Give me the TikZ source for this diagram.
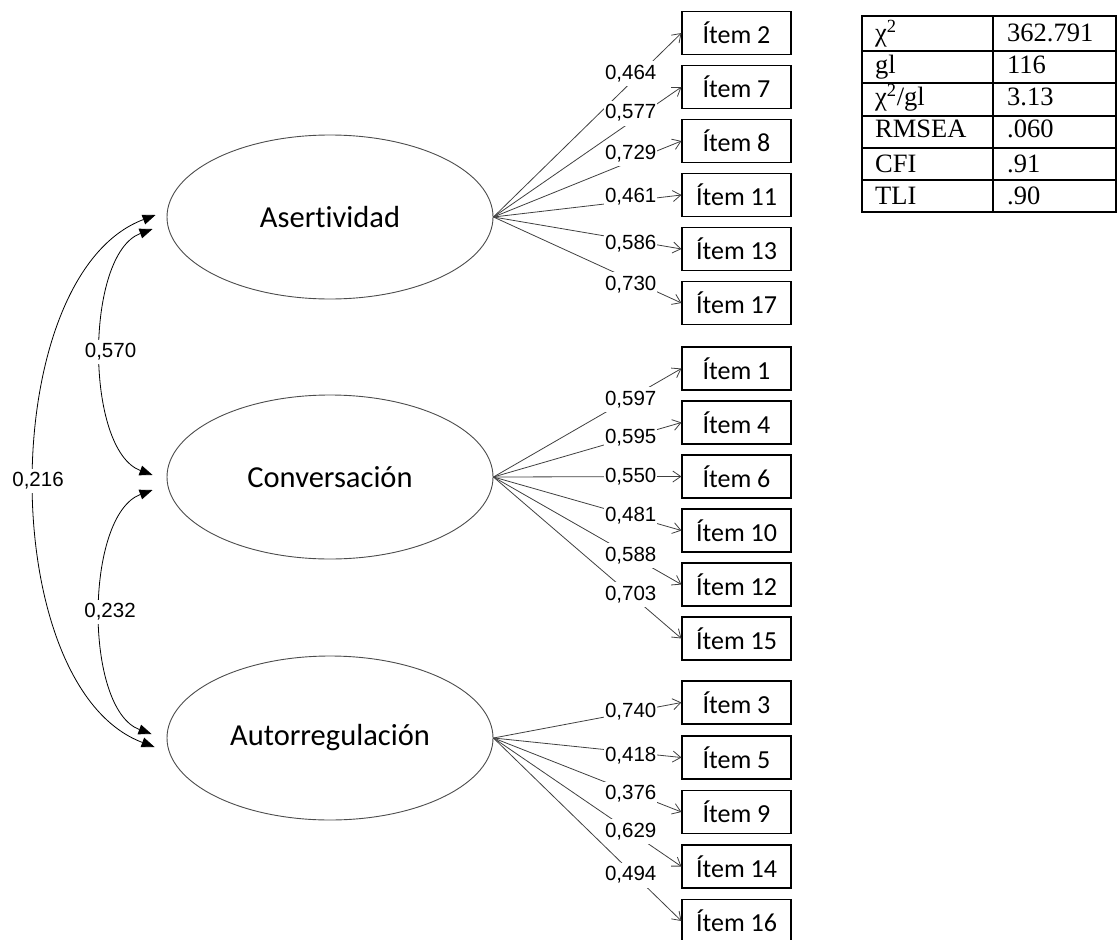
\documentclass[tikz,border=0pt]{standalone}
\usepackage{fontspec}
\setmainfont{Liberation Serif}
\newfontfamily\carl[Ligatures=NoCommon]{Carlito}
\newfontfamily\arl{Liberation Sans}
\usetikzlibrary{arrows.meta,shapes.geometric,calc}

\begin{document}
\begin{tikzpicture}[x=1pt,y=-1pt,
  latent/.style={ellipse, draw=black!70, line width=0.9pt, minimum width=326pt, minimum height=164pt, inner sep=0pt, font=\carl\fontsize{30.5}{30.5}\selectfont},
  item/.style={rectangle, draw=black, line width=1.1pt, minimum width=109pt, minimum height=43pt, inner sep=0pt, font=\carl\fontsize{26}{26}\selectfont},
  load/.style={draw=black!75, line width=0.8pt, -{Straight Barb[length=8pt,width=11pt]}},
  lbl/.style={fill=white, inner xsep=1pt, inner ysep=4pt, font=\arl\fontsize{20.5}{20.5}\selectfont, text=black},
  cov/.style={draw=black, line width=0.8pt, {Triangle[length=13pt,width=10pt]}-{Triangle[length=13pt,width=10pt]}},
  tline/.style={draw=black, line width=1.8pt},
  tcell/.style={anchor=base west, inner sep=0pt, font=\fontsize{26.5}{26.5}\selectfont},
]
\useasboundingbox (0,0) rectangle (1118,939);

% latent factors
\node[latent] (F1) at (330,217) {Asertividad};
\node[latent] (F2) at (330,477) {Conversación};
\node[latent] (F3) at (330,738) {Autorregulación};

% items
\node[item] (i2)  at (736.5,33)  {Ítem 2};
\node[item] (i7)  at (736.5,87)  {Ítem 7};
\node[item] (i8)  at (736.5,141) {Ítem 8};
\node[item] (i11) at (736.5,195) {Ítem 11};
\node[item] (i13) at (736.5,249) {Ítem 13};
\node[item] (i17) at (736.5,303) {Ítem 17};

\node[item] (i1)  at (736.5,368.5) {Ítem 1};
\node[item] (i4)  at (736.5,422.5) {Ítem 4};
\node[item] (i6)  at (736.5,476.5) {Ítem 6};
\node[item] (i10) at (736.5,530.5) {Ítem 10};
\node[item] (i12) at (736.5,584.5) {Ítem 12};
\node[item] (i15) at (736.5,638.5) {Ítem 15};

\node[item] (i3)  at (736.5,702.5) {Ítem 3};
\node[item] (i5)  at (736.5,757.5) {Ítem 5};
\node[item] (i9)  at (736.5,812)   {Ítem 9};
\node[item] (i14) at (736.5,866.5) {Ítem 14};
\node[item] (i16) at (736.5,921)   {Ítem 16};

% loadings
\draw[load] (F1.east) -- node[lbl,pos=0.73,yshift=9.5pt]{0,464} (i2.west);
\draw[load] (F1.east) -- node[lbl,pos=0.73,yshift=9pt]{0,577} (i7.west);
\draw[load] (F1.east) -- node[lbl,pos=0.73,yshift=8pt]{0,729} (i8.west);
\draw[load] (F1.east) -- node[lbl,pos=0.73,yshift=4pt]{0,461} (i11.west);
\draw[load] (F1.east) -- node[lbl,pos=0.73,yshift=-3.5pt]{0,586} (i13.west);
\draw[load] (F1.east) -- node[lbl,pos=0.73,yshift=-5pt]{0,730} (i17.west);

\draw[load] (F2.east) -- node[lbl,pos=0.73,yshift=-2pt]{0,597} (i1.west);
\draw[load] (F2.east) -- node[lbl,pos=0.73]{0,595} (i4.west);
\draw[load] (F2.east) -- node[lbl,pos=0.73]{0,550} (i6.west);
\draw[load] (F2.east) -- node[lbl,pos=0.73]{0,481} (i10.west);
\draw[load] (F2.east) -- node[lbl,pos=0.73]{0,588} (i12.west);
\draw[load] (F2.east) -- node[lbl,pos=0.73]{0,703} (i15.west);

\draw[load] (F3.east) -- node[lbl,pos=0.73]{0,740} (i3.west);
\draw[load] (F3.east) -- node[lbl,pos=0.73,yshift=-3.5pt]{0,418} (i5.west);
\draw[load] (F3.east) -- node[lbl,pos=0.73,yshift=-2pt]{0,376} (i9.west);
\draw[load] (F3.east) -- node[lbl,pos=0.73]{0,629} (i14.west);
\draw[load] (F3.east) -- node[lbl,pos=0.73,yshift=-3.5pt]{0,494} (i16.west);

% covariance end points
\coordinate (o1) at ($(F1.west)+(-11,-2)$);
\coordinate (o3) at ($(F3.west)+(-12,9)$);
\coordinate (a1) at ($(F1.west)+(-14,12)$);
\coordinate (a2) at ($(F2.west)+(-14,-2)$);
\coordinate (b2) at ($(F2.west)+(-14,13)$);
\coordinate (b3) at ($(F3.west)+(-15,-4)$);

\draw[cov] (a1) .. controls +(-68,25) and +(-68,-25) .. node[lbl,pos=0.5,xshift=9pt]{0,570} (a2);
\draw[cov] (b2) .. controls +(-68,25) and +(-68,-25) .. node[lbl,pos=0.5,xshift=9pt]{0,232} (b3);
\draw[cov] (o1) .. controls +(-160,60) and +(-160,-60) .. node[lbl,pos=0.5,xshift=3pt]{0,216} (o3);

% fit table
\draw[tline] (862,16) rectangle (1116,212);
\draw[tline] (993,16) -- (993,212);
\foreach \yy in {51,83,116,148,180} {\draw[tline] (862,\yy) -- (1116,\yy);}
\node[tcell] (t1a) at (875,42)  {χ\textsuperscript{2}};
\node[tcell] (t1b) at (1007,42) {362.791};
\node[tcell] (t2a) at (875,74)  {gl};
\node[tcell] (t2b) at (1007,74) {116};
\node[tcell] (t3a) at (875,106) {χ\textsuperscript{2}/gl};
\node[tcell] (t3b) at (1007,106) {3.13};
\node[tcell] (t4a) at (875,138) {RMSEA};
\node[tcell] (t4b) at (1007,138) {.060};
\node[tcell] (t5a) at (875,172) {CFI};
\node[tcell] (t5b) at (1007,172) {.91};
\node[tcell] (t6a) at (875,204) {TLI};
\node[tcell] (t6b) at (1007,204) {.90};
\end{tikzpicture}
\end{document}
